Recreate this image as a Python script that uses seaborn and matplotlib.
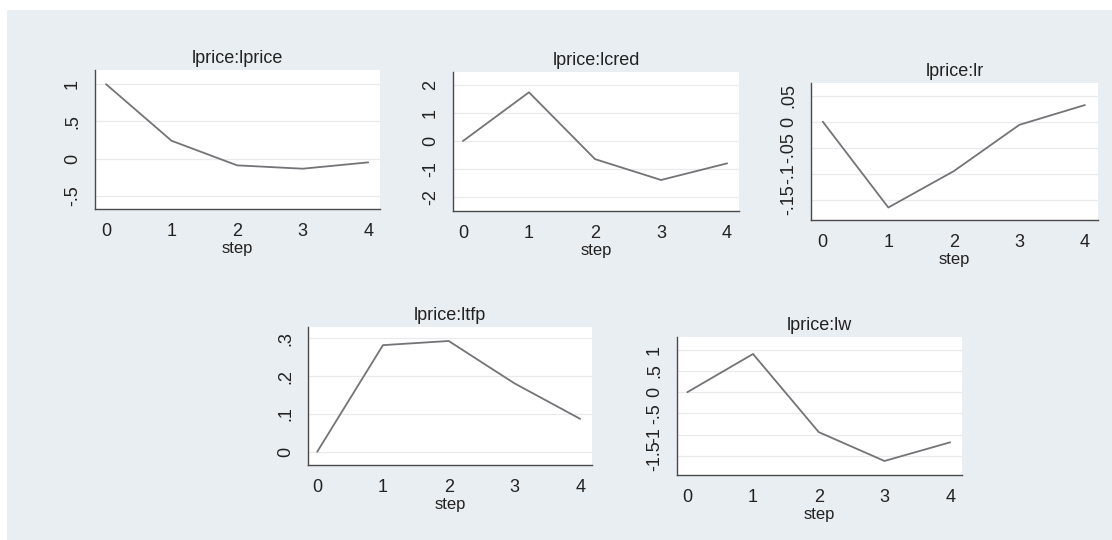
import numpy as np
import pandas as pd
import matplotlib
matplotlib.use("Agg")
import matplotlib.pyplot as plt
import seaborn as sns
from matplotlib.patches import Rectangle

## dados (irf, 5 painéis)

steps = [0, 1, 2, 3, 4]

titulos = ["lprice:lprice", "lprice:lcred", "lprice:lr", "lprice:ltfp", "lprice:lw"]

irf_lprice = [1.0, 0.24, -0.09, -0.135, -0.05]
irf_lcred = [0.0, 1.73, -0.64, -1.38, -0.79]
irf_lr = [0.0, -0.165, -0.095, -0.006, 0.032]
irf_ltfp = [0.0, 0.282, 0.293, 0.181, 0.087]
irf_lw = [0.0, 0.90, -0.94, -1.62, -1.18]

yticks_lprice = [-0.5, 0, 0.5, 1]
ylabels_lprice = ["-.5", "0", ".5", "1"]
yticks_lcred = [-2, -1, 0, 1, 2]
ylabels_lcred = ["-2", "-1", "0", "1", "2"]
yticks_lr = [-0.15, -0.1, -0.05, 0, 0.05]
ylabels_lr = ["-.15", "-.1", "-.05", "0", ".05"]
yticks_ltfp = [0, 0.1, 0.2, 0.3]
ylabels_ltfp = ["0", ".1", ".2", ".3"]
yticks_lw = [-1.5, -1, -0.5, 0, 0.5, 1]
ylabels_lw = ["-1.5", "-1", "-.5", "0", ".5", "1"]

series = [irf_lprice, irf_lcred, irf_lr, irf_ltfp, irf_lw]
yticks = [yticks_lprice, yticks_lcred, yticks_lr, yticks_ltfp, yticks_lw]
ylabels = [ylabels_lprice, ylabels_lcred, ylabels_lr, ylabels_ltfp, ylabels_lw]

# limites dos eixos
ylims = [(-0.676, 1.19), (-2.48, 2.45), (-0.189, 0.0744), (-0.035, 0.33), (-1.95, 1.30)]
xlims = [(-0.168, 4.18), (-0.15, 4.18), (-0.18, 4.2), (-0.14, 4.18), (-0.157, 4.18)]

# posição dos painéis em pixels (esq, topo, dir, base)
caixas = [(95, 70, 380, 209), (453, 72, 739, 211), (811, 83, 1098, 220),
          (308, 327, 592, 465), (677, 337, 962, 475)]

W, H = 1112, 540

sns.set_style("white")
plt.rcParams['font.family'] = ['Liberation Sans', 'DejaVu Sans']

fig = plt.figure(figsize=(W / 100, H / 100), dpi=100)
fig.patch.set_facecolor("white")
fundo = Rectangle((7 / W, 0), 1 - 7 / W, 1 - 10 / H,
                  transform=fig.transFigure, facecolor="#e9eef2",
                  edgecolor="none", zorder=-10)
fig.add_artist(fundo)

for i in range(5):
    l, t, r, b = caixas[i]
    ax = fig.add_axes([l / W, 1 - b / H, (r - l) / W, (b - t) / H])
    ax.set_facecolor("white")

    df = pd.DataFrame({"step": steps, "irf": series[i]})
    sns.lineplot(data=df, x="step", y="irf", ax=ax, color="#747478", linewidth=1.3)

    ax.set_xlim(*xlims[i])
    ax.set_ylim(*ylims[i])
    ax.set_xticks(steps)
    ax.set_xticklabels([str(s) for s in steps])
    ax.set_yticks(yticks[i])
    ax.set_yticklabels(ylabels[i], rotation=90, va="center")

    for yv in yticks[i]:
        ax.axhline(yv, color="#e8eaec", linewidth=0.9, zorder=0)

    for lado in ["top", "right"]:
        ax.spines[lado].set_visible(False)
    for lado in ["left", "bottom"]:
        ax.spines[lado].set_color("#4a4a4a")
        ax.spines[lado].set_linewidth(1.0)

    ax.tick_params(axis="both", direction="out", length=7, width=1, color="#4a4a4a",
                   labelsize=13, labelcolor="#222222", pad=3)
    ax.set_title(titulos[i], fontsize=13, color="#222222", pad=5)
    ax.set_xlabel("step", fontsize=12, color="#222222", labelpad=1)
    ax.set_ylabel("")

plt.savefig("out.png", dpi=100)
